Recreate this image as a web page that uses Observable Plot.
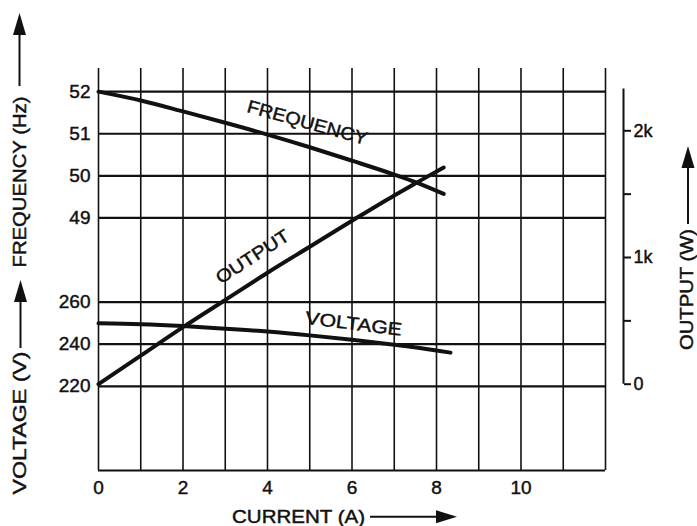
<!DOCTYPE html>
<html>
<head>
<meta charset="utf-8">
<script src="https://cdn.jsdelivr.net/npm/d3@7"></script>
<script src="https://cdn.jsdelivr.net/npm/@observablehq/plot@0.6"></script>
<style>
  html, body { margin: 0; padding: 0; background: #fff; }
  svg { display: block; }
  svg text { stroke: #111; stroke-width: 0.45px; }
</style>
</head>
<body>
<div id="chart"></div>
<script>
// ---- data ----
const freqCurrent = [0, 1, 2, 3, 4, 5, 6, 7, 7.5, 8.17];
const freqHz      = [52.0, 51.79, 51.53, 51.26, 50.98, 50.68, 50.36, 50.03, 49.85, 49.57];

const voltCurrent = [0, 1, 2, 3, 4, 5, 6, 7, 8, 8.33];
const voltV       = [250, 249.5, 248.6, 247.4, 246.0, 244.2, 242.1, 239.7, 237.0, 236.0];

const outCurrent  = [0, 1, 2, 3, 4, 5, 6, 7, 7.5, 8.17];
const outW        = [0, 225, 450, 665, 880, 1085, 1290, 1490, 1585, 1710];

const currentTicks = [0, 2, 4, 6, 8, 10];
const currentGrid  = [0, 1, 2, 3, 4, 5, 6, 7, 8, 9, 10, 11, 12];
const freqTicks    = [49, 50, 51, 52];
const voltTicks    = [220, 240, 260];
const outTicks     = [0, 1000, 2000];
const outMinor     = [500, 1500];
const outAxisTop   = 2330;

// shared vertical scale is expressed in frequency units (Hz);
// voltage and output are mapped onto it as the printed chart does
const voltEq = v => 45 + (v - 220) / 20;
const outEq  = w => 45.05 + 3.01 * w / 1000;

const freqData = freqCurrent.map((c, i) => ({c, y: freqHz[i]}));
const voltData = voltCurrent.map((c, i) => ({c, y: voltEq(voltV[i])}));
const outData  = outCurrent.map((c, i) => ({c, y: outEq(outW[i])}));

const ink = "#111";
const font = "'Liberation Sans', Arial, Helvetica, sans-serif";

const plot = Plot.plot({
  width: 697,
  height: 526,
  marginLeft: 98,
  marginRight: 92,
  marginTop: 68,
  marginBottom: 56,
  x: {domain: [0, 12]},
  y: {domain: [43, 52.55]},
  style: {fontFamily: font, fontSize: "19px", color: ink, background: "#fff"},
  marks: [
    // vertical grid (every ampere)
    Plot.ruleX(currentGrid, {y1: 43, y2: 52.55, stroke: ink, strokeWidth: 1.6}),
    // horizontal grid: frequency lines, voltage lines, bottom frame
    Plot.ruleY([...freqTicks, ...voltTicks.map(voltEq), 43], {x1: 0, x2: 12, stroke: ink, strokeWidth: 2.2}),

    // x axis
    Plot.axisX({ticks: currentTicks, tickSize: 0, tickPadding: 10, label: null, tickFormat: d => d, fontSize: 19}),
    // left axis: frequency and voltage
    Plot.axisY({ticks: freqTicks, tickSize: 0, tickPadding: 8, label: null, tickFormat: d => d, fontSize: 19}),
    Plot.axisY({ticks: voltTicks.map(voltEq), tickSize: 0, tickPadding: 8, label: null,
                tickFormat: d => Math.round(220 + (d - 45) * 20), fontSize: 19}),
    // right axis: output
    Plot.ruleX([12], {y1: outEq(0), y2: outEq(outAxisTop), dx: 18, stroke: ink, strokeWidth: 2}),
    Plot.axisY({anchor: "right", ticks: outTicks.map(outEq), tickSize: 7, tickPadding: 3, dx: 18, label: null,
                strokeWidth: 2, fontSize: 18,
                tickFormat: d => { const w = Math.round((d - 45.05) / 3.01 * 1000); return w === 0 ? "0" : (w / 1000) + "k"; }}),
    Plot.axisY({anchor: "right", ticks: outMinor.map(outEq), tickSize: 7, dx: 18, label: null, strokeWidth: 2,
                tickFormat: () => ""}),

    // curves
    Plot.line(freqData, {x: "c", y: "y", stroke: ink, strokeWidth: 4, curve: "monotone-x"}),
    Plot.line(voltData, {x: "c", y: "y", stroke: ink, strokeWidth: 4, curve: "monotone-x"}),
    Plot.line(outData,  {x: "c", y: "y", stroke: ink, strokeWidth: 4, curve: "monotone-x"}),

    // curve labels
    Plot.text(["FREQUENCY"], {x: 4.94, y: 51.26, text: d => d, rotate: 15.5, fontSize: 18, fill: ink, className: "lbl-freq"}),
    Plot.text(["OUTPUT"], {x: 3.65, y: outEq(1005), text: d => d, rotate: -33, fontSize: 18, fill: ink, className: "lbl-out"}),
    Plot.text(["VOLTAGE"], {x: 6.04, y: voltEq(249.6), text: d => d, rotate: 7, fontSize: 18, fill: ink, className: "lbl-volt"})
  ]
});

document.getElementById("chart").appendChild(plot);

const svg = d3.select(plot);
// stretch curve labels to the printed letter spacing
svg.select(".lbl-freq text").attr("textLength", 124).attr("lengthAdjust", "spacingAndGlyphs");
svg.select(".lbl-out text").attr("textLength", 84).attr("lengthAdjust", "spacingAndGlyphs");
svg.select(".lbl-volt text").attr("textLength", 97).attr("lengthAdjust", "spacingAndGlyphs");

// axis titles with arrows
const g = svg.append("g").attr("font-family", font).attr("font-size", 18).attr("fill", ink);
function title(str, x, y, rot, len) {
  g.append("text")
    .attr("transform", `translate(${x},${y}) rotate(${rot})`)
    .attr("text-anchor", "middle")
    .attr("dy", "0.36em")
    .attr("textLength", len)
    .attr("lengthAdjust", "spacingAndGlyphs")
    .text(str);
}
function arrowUp(x, yTail, yTip) {
  g.append("line").attr("x1", x).attr("x2", x).attr("y1", yTail).attr("y2", yTip + 18)
    .attr("stroke", ink).attr("stroke-width", 2);
  g.append("path").attr("d", `M${x},${yTip} L${x - 6.5},${yTip + 22} L${x + 6.5},${yTip + 22} Z`).attr("fill", ink);
}
function arrowRight(y, xTail, xTip) {
  g.append("line").attr("y1", y).attr("y2", y).attr("x1", xTail).attr("x2", xTip - 18)
    .attr("stroke", ink).attr("stroke-width", 2);
  g.append("path").attr("d", `M${xTip},${y} L${xTip - 21},${y - 6.5} L${xTip - 21},${y + 6.5} Z`).attr("fill", ink);
}

title("FREQUENCY (Hz)", 20, 182, -90, 171);
arrowUp(19.5, 86, 13);
title("VOLTAGE (V)", 20, 423, -90, 143);
arrowUp(20.5, 348, 280);
title("OUTPUT (W)", 687, 289.5, -90, 121);
arrowUp(688, 224, 146);
title("CURRENT (A)", 298.5, 517, 0, 133);
arrowRight(516.7, 370, 457);
</script>
</body>
</html>
